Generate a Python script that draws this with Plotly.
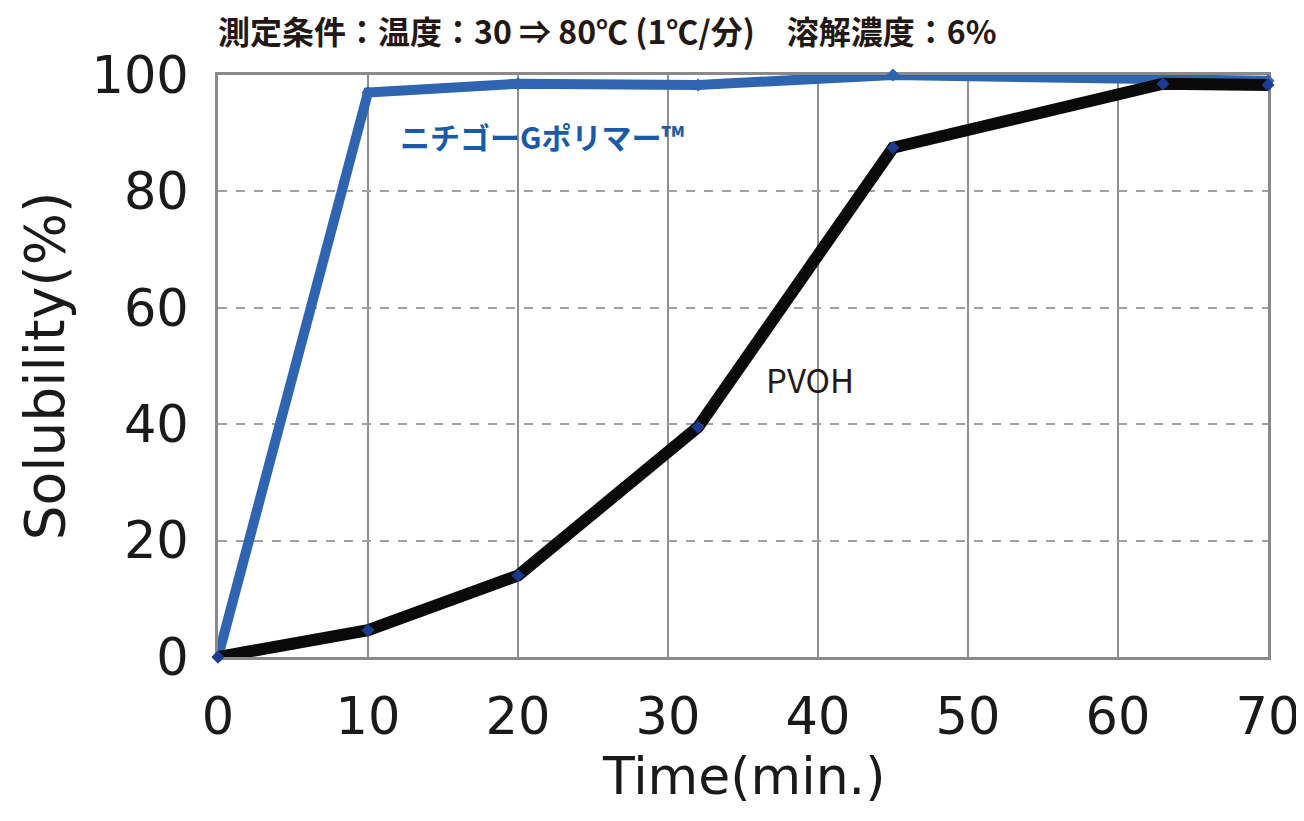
import plotly.graph_objects as go

# Data
time_points = [0, 10, 20, 32, 45, 63, 70]
nichigo_g = [0, 97, 98.5, 98.3, 100, 99, 99]
pvoh = [0, 4.6, 14, 39.5, 87.5, 98.5, 98.3]
x_ticks = [0, 10, 20, 30, 40, 50, 60, 70]
y_ticks = [0, 20, 40, 60, 80, 100]

title_text = "測定条件：温度：30 ⇒ 80℃ (1℃/分)　溶解濃度：6%"
label_g = "ニチゴーGポリマー™"
label_pvoh = "PVOH"
x_title = "Time(min.)"
y_title = "Solubility(%)"

fig = go.Figure()
fig.add_trace(go.Scatter(
    x=time_points, y=nichigo_g, mode="lines+markers",
    line=dict(color="#2f64b1", width=10),
    marker=dict(symbol="diamond", size=10, color="#2f64b1"),
    cliponaxis=False, showlegend=False))
fig.add_trace(go.Scatter(
    x=time_points, y=pvoh, mode="lines+markers",
    line=dict(color="#0a0a0a", width=12),
    marker=dict(symbol="diamond", size=10, color="#1c3a8f"),
    cliponaxis=False, showlegend=False))

axis_font = dict(family="DejaVu Sans", size=51, color="#1a1a1a")

fig.update_layout(
    width=1304, height=821,
    margin=dict(l=210, r=38, t=67, b=172),
    paper_bgcolor="white", plot_bgcolor="white",
    xaxis=dict(range=[0, 70], tickvals=x_ticks, tickfont=axis_font,
               showgrid=True, gridcolor="#8f8f8f", gridwidth=2,
               showline=True, linecolor="#8a8a8a", linewidth=3, mirror=True,
               zeroline=False, ticks="", ticklabelstandoff=13,
               ticklabeloverflow="allow",
               layer="below traces"),
    yaxis=dict(range=[0, 100], tickvals=y_ticks, tickfont=axis_font,
               showgrid=True, gridcolor="#a0a0a0", gridwidth=2, griddash="dash",
               showline=True, linecolor="#8a8a8a", linewidth=3, mirror=True,
               zeroline=False, ticks="", ticklabelstandoff=16,
               ticklabeloverflow="allow",
               layer="below traces",
               title=dict(text=y_title, font=dict(family="DejaVu Sans", size=55, color="#1a1a1a"),
                          standoff=10)),
    annotations=[
        dict(text="<b>" + title_text + "</b>", xref="paper", yref="paper",
             x=0.0, y=1.0, xanchor="left", yanchor="bottom", yshift=20, xshift=-2,
             showarrow=False,
             font=dict(family="Noto Sans CJK JP", size=32, color="#231815")),
        dict(text=x_title, xref="paper", yref="paper",
             x=0.5, y=0.0, xanchor="center", yanchor="middle", yshift=-119,
             showarrow=False,
             font=dict(family="DejaVu Sans", size=52, color="#1a1a1a")),
        dict(text="<b>" + label_g + "</b>", xref="x", yref="y",
             x=12.0, y=89.5, xanchor="left", yanchor="middle", showarrow=False,
             font=dict(family="Noto Sans CJK JP", size=30, color="#1a5aa8")),
        dict(text=label_pvoh, xref="x", yref="y",
             x=36.4, y=47.8, xanchor="left", yanchor="middle", showarrow=False,
             font=dict(family="Noto Sans CJK JP", size=33, color="#231815")),
    ],
)

fig.write_html("out.html")
